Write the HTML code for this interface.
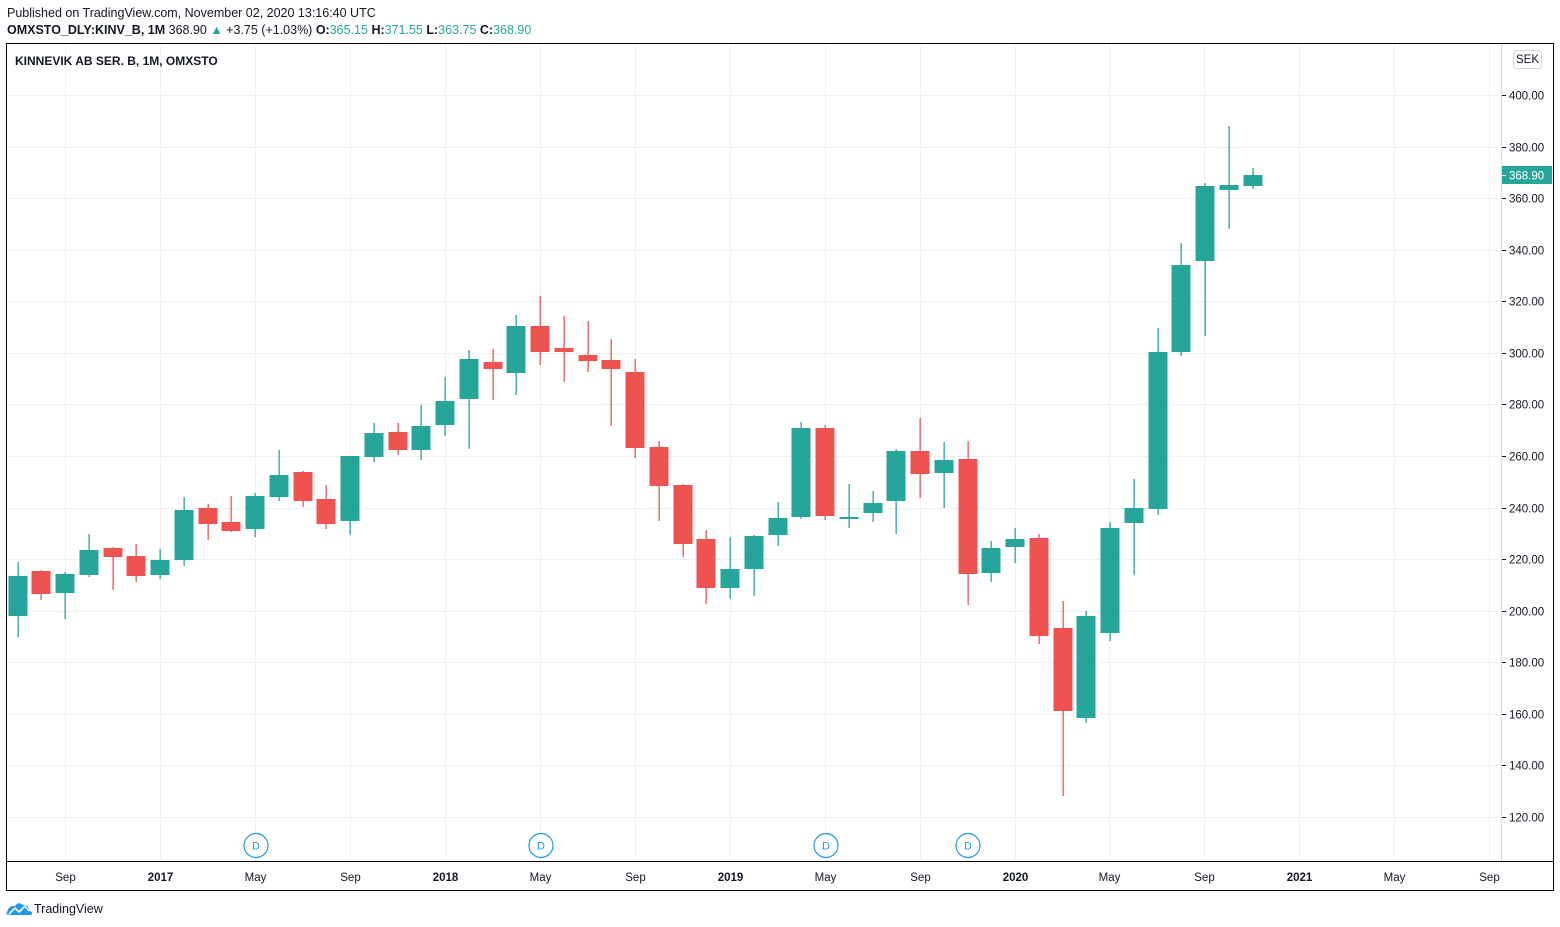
<!DOCTYPE html>
<html><head><meta charset="utf-8"><style>
body{margin:0;width:1560px;height:927px;background:#fff;overflow:hidden;font-family:"Liberation Sans",sans-serif}
svg{position:absolute;left:0;top:0}
</style></head><body>
<svg id="s" width="1560" height="927" xmlns="http://www.w3.org/2000/svg" font-family="Liberation Sans, sans-serif">
<text x="7" y="17" font-size="12.5" fill="#131722">Published on TradingView.com, November 02, 2020 13:16:40 UTC</text>
<text x="7" y="34" font-size="12.5" fill="#131722"><tspan font-weight="bold">OMXSTO_DLY:KINV_B, 1M</tspan> 368.90 <tspan fill="#26a69a">▲</tspan> +3.75 (+1.03%) <tspan font-weight="bold">O:</tspan><tspan fill="#26a69a">365.15</tspan> <tspan font-weight="bold">H:</tspan><tspan fill="#26a69a">371.55</tspan> <tspan font-weight="bold">L:</tspan><tspan fill="#26a69a">363.75</tspan> <tspan font-weight="bold">C:</tspan><tspan fill="#26a69a">368.90</tspan></text>
<g id="grid" stroke="#f0f0f0" stroke-width="1"></g>
<rect x="6.5" y="43.5" width="1547" height="847" fill="none" stroke="#000" stroke-width="1"/>
<line x1="1501.5" y1="44" x2="1501.5" y2="861" stroke="#d6d6d6"/>
<line x1="7" y1="861.5" x2="1553" y2="861.5" stroke="#000"/>
<text x="15" y="65" font-size="12" font-weight="bold" fill="#131722">KINNEVIK AB SER. B, 1M, OMXSTO</text>
<rect x="1513.5" y="50.5" width="28" height="18" rx="3" fill="#fff" stroke="#d6d6d6"/>
<text x="1527.5" y="63" font-size="11.5" text-anchor="middle" fill="#131722">SEK</text>
<g id="axis" font-size="11.5" fill="#131722"></g>
<g id="candles"></g>
<rect x="1502" y="166" width="50" height="18" fill="#26a69a"/>
<line x1="1502" y1="175.5" x2="1506" y2="175.5" stroke="#fff"/>
<text x="1509" y="179.5" font-size="11.5" fill="#fff">368.90</text>
<g id="d" font-size="11" fill="#2196f3" text-anchor="middle"></g>
<g transform="translate(7,902)"><path d="M0 10 Q2 3 8 4 Q11 -1 16 3 Q22 2 22 9 Q27 10 24 13 L2 13 Q-2 12 0 10Z" fill="#2196f3"/><path d="M2 12 L8 6 L12 10 L18 4 L22 9" fill="none" stroke="#fff" stroke-width="1.6"/></g>
<text x="34" y="913" font-size="12.5" fill="#131722">TradingView</text>
</svg>
<script>
const NS="http://www.w3.org/2000/svg";
function el(p,t,a,txt){const e=document.createElementNS(NS,t);for(const k in a)e.setAttribute(k,a[k]);if(txt)e.textContent=txt;document.getElementById(p).appendChild(e);return e;}
for(let v=120;v<=400;v+=20){const y=Math.round(95+(400-v)*2.5786)+0.5;
 el('grid','line',{x1:7,y1:y,x2:1501,y2:y});
 el('axis','line',{x1:1502,y1:y,x2:1506,y2:y,stroke:'#131722'});
 el('axis','text',{x:1509,y:y+4},v.toFixed(2));}
const labs=["Sep","2017","May","Sep","2018","May","Sep","2019","May","Sep","2020","May","Sep","2021","May","Sep"];
labs.forEach((l,i)=>{const x=Math.round(65+i*94.95)+0.5;
 el('grid','line',{x1:x,y1:44,x2:x,y2:861});
 el('axis','text',{x:x,y:881,'text-anchor':'middle','font-weight':/^\d/.test(l)?'bold':'normal'},l);});
const G='#26a69a',R='#ef5350';
const c=[[G,576,616,562,637],[R,571,594,570,600],[G,574,593,572,619],[G,550,575,534,577],[R,548,557,547,590],[R,556,576,544,582],[G,560,575,549,579],[G,510,560,497,566],[R,508,524,504,540],[R,522,531,496,532],[G,496,529,493,537],[G,475,497,450,501],[R,472,501,471,507],[R,499,524,485,529],[G,456,521,456,535],[G,433,457,423,462],[R,432,450,423,455],[G,426,450,405,460],[G,401,425,377,436],[G,359,399,350,449],[R,362,369,349,400],[G,326,373,315,395],[R,326,352,296,365],[R,348,352,316,382],[R,355,361,321,372],[R,360,369,339,426],[R,372,448,359,458],[R,447,486,441,521],[R,485,544,484,557],[R,539,588,530,604],[G,569,588,537,599],[G,536,569,535,596],[G,518,535,502,546],[G,428,517,422,519],[R,428,516,425,520],[G,517,519,484,528],[G,503,513,491,522],[G,451,501,449,534],[R,451,474,418,498],[G,460,473,442,508],[R,459,574,441,605],[G,548,573,541,582],[G,539,547,528,563],[R,538,636,534,644],[R,628,711,601,796],[G,616,718,611,723],[G,528,633,522,641],[G,508,523,479,575],[G,352,509,328,515],[G,265,352,243,356],[G,186,261,183,336],[G,185,190,126,229],[G,175,186,168,189]];
c.forEach((k,i)=>{const x=17.5+i*23.75;
 el('candles','rect',{x:Math.round(x)-0.5,y:k[3],width:1.3,height:k[4]-k[3],fill:k[0]});
 el('candles','rect',{x:Math.round(x)-9.5,y:k[1],width:19,height:Math.max(2,k[2]-k[1]),fill:k[0]});});
[256,541,826,968].forEach(x=>{el('d','circle',{cx:x,cy:845.5,r:12,fill:'#fff',stroke:'#2196f3','stroke-width':1.2});el('d','text',{x:x,y:849.5},'D');});
</script>
</body></html>
